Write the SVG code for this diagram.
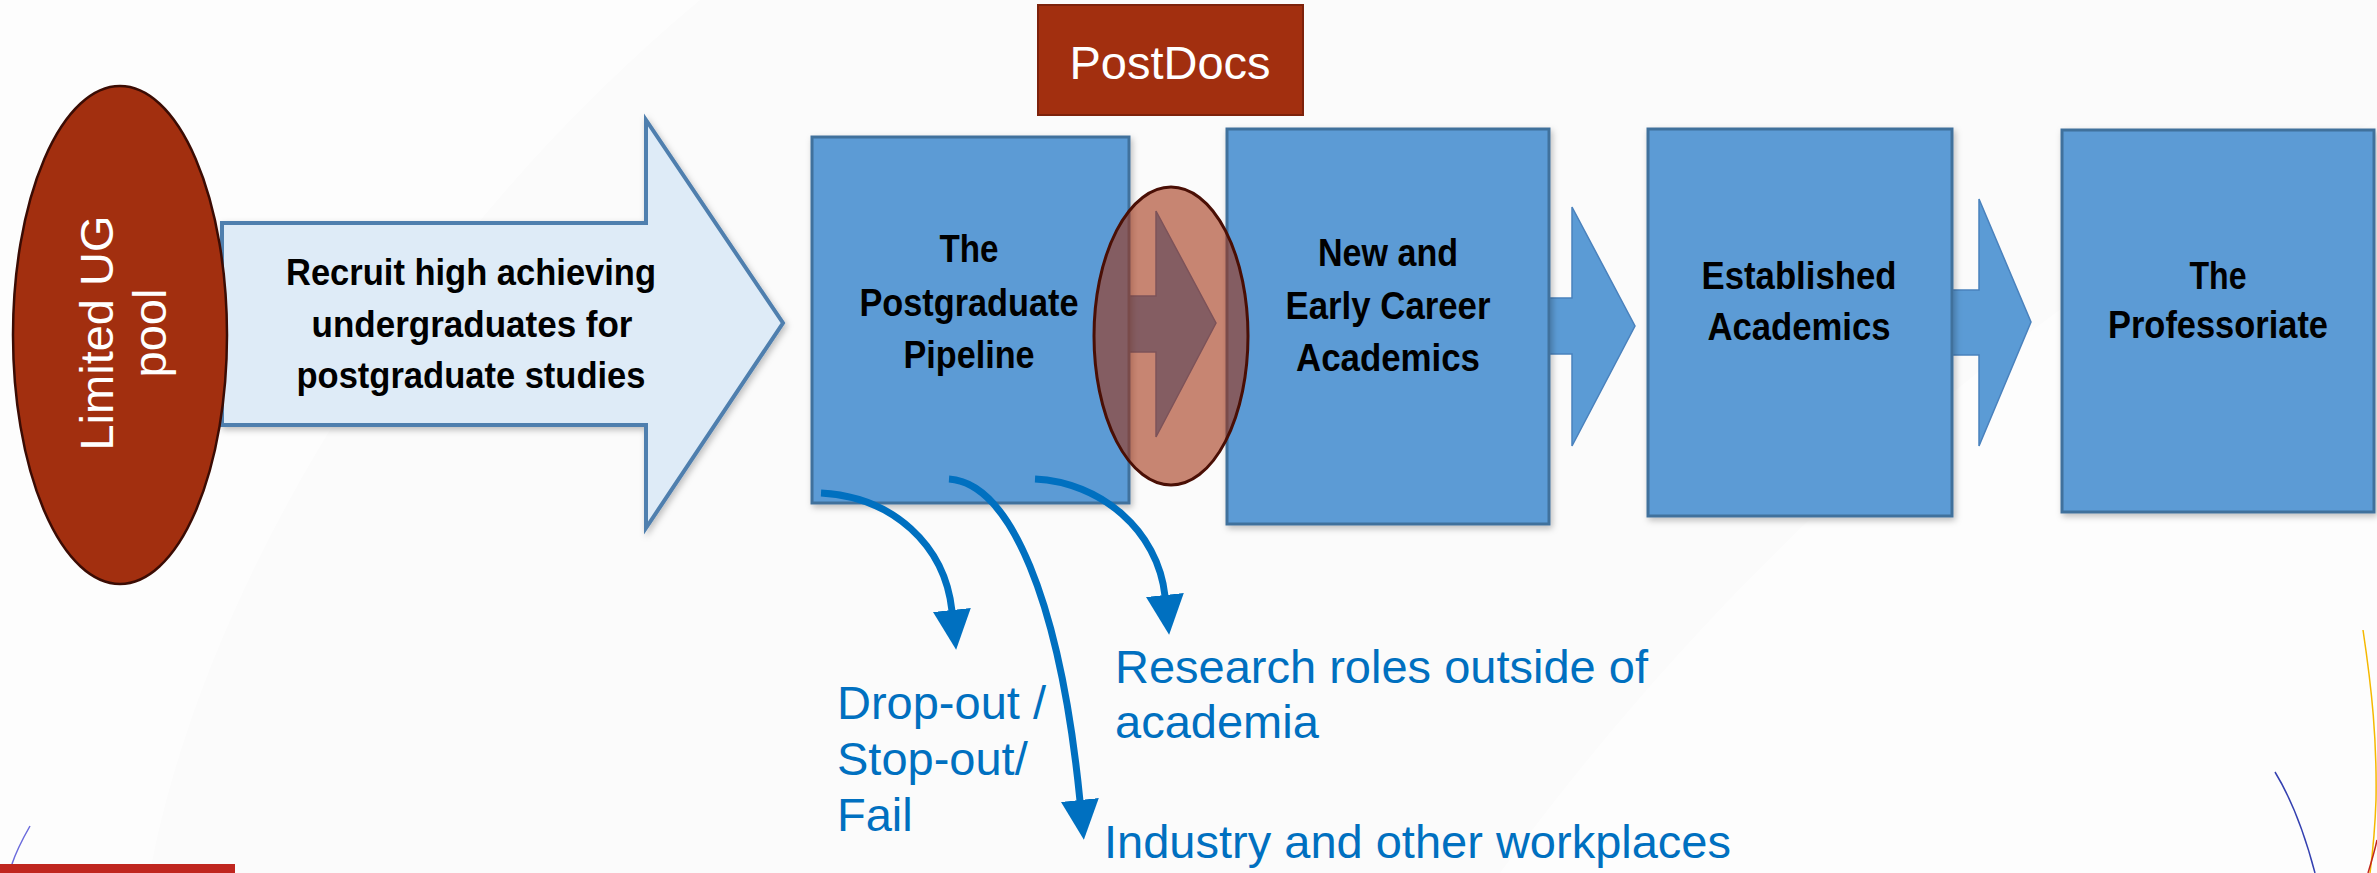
<svg xmlns="http://www.w3.org/2000/svg" width="2377" height="873" viewBox="0 0 2377 873">
  <defs>
    <style>
      .bg{fill:#fbfbfb}
      .haze{fill:#ffffff}
      .stage{fill:#5b9bd5;stroke:#41719c;stroke-width:3}
      .step{fill:#5b9bd5;stroke:#4a82bd;stroke-width:1.5}
      .lbl{font-family:"Liberation Sans",Arial,sans-serif;font-weight:bold;font-size:39px;fill:#000;text-anchor:middle}
      .rlbl{font-family:"Liberation Sans",Arial,sans-serif;font-weight:bold;font-size:36px;fill:#000;text-anchor:middle}
      .white{font-family:"Liberation Sans",Arial,sans-serif;font-size:47px;fill:#fff;text-anchor:middle}
      .out{font-family:"Liberation Sans",Arial,sans-serif;font-size:47px;fill:#0070c0}
      .exit{fill:none;stroke:#0070c0;stroke-width:7;marker-end:url(#head)}
      .rust{fill:#a22f0f}
      .deco{fill:none;stroke-width:1.5}
    </style>
    <marker id="head" markerUnits="userSpaceOnUse" viewBox="0 0 40 38" markerWidth="40" markerHeight="38" refX="1" refY="19" orient="auto">
      <path d="M0,0 L40,19 L0,38 Z" fill="#0070c0"/>
    </marker>
    <filter id="shadow" x="-10%" y="-10%" width="125%" height="125%">
      <feDropShadow dx="2" dy="3" stdDeviation="3" flood-color="#000" flood-opacity="0.25"/>
    </filter>
  </defs>

  <!-- page background -->
  <rect class="bg" x="0" y="0" width="2377" height="873"/>
  <path class="haze" d="M0,0 L700,0 C400,250 200,600 150,873 L0,873 Z" opacity="0.6"/>
  <path class="haze" d="M1500,873 C1700,600 2000,300 2377,120 L2377,873 Z" opacity="0.6"/>

  <!-- decorative corner arcs -->
  <path class="deco" d="M30,826 C22,840 16,852 12,864" stroke="#6b6bdc"/>
  <path class="deco" d="M2363,630 C2372,690 2377,740 2376,800 C2375,830 2373,850 2370,873" stroke="#f5b800" stroke-width="2"/>
  <path class="deco" d="M2275,772 C2292,800 2305,835 2315,873" stroke="#3440b0"/>
  <path class="deco" d="M2368,873 C2372,860 2375,850 2377,840" stroke="#c0261f" stroke-width="2.5"/>
  <rect x="0" y="864" width="235" height="9" fill="#c0261f"/>

  <!-- recruitment arrow -->
  <g id="recruit">
    <polygon points="222,223 646,223 646,120 783,323 646,528 646,425 222,425" fill="#deebf7" stroke="#4f7fae" stroke-width="4" filter="url(#shadow)"/>
    <text class="rlbl" x="471" y="285" textLength="370" lengthAdjust="spacingAndGlyphs">Recruit high achieving</text>
    <text class="rlbl" x="472" y="337" textLength="321" lengthAdjust="spacingAndGlyphs">undergraduates for</text>
    <text class="rlbl" x="471" y="388" textLength="349" lengthAdjust="spacingAndGlyphs">postgraduate studies</text>
  </g>

  <!-- undergraduate pool -->
  <g id="ug-pool">
    <ellipse class="rust" cx="120" cy="335" rx="107" ry="249" stroke="#3b0c04" stroke-width="2.5"/>
    <text class="white" transform="translate(113,333) rotate(-90)">Limited UG</text>
    <text class="white" transform="translate(166,333) rotate(-90)">pool</text>
  </g>

  <!-- step arrows between career stages -->
  <g id="steps">
    <polygon class="step" points="1120,296 1156,296 1156,211 1216,323 1156,437 1156,352 1120,352"/>
    <polygon class="step" points="1540,298 1572,298 1572,207 1635,326 1572,446 1572,354 1540,354"/>
    <polygon class="step" points="1945,290 1979,290 1979,199 2031,322 1979,446 1979,355 1945,355"/>
  </g>

  <g id="pipeline">
    <rect class="stage" x="812" y="137" width="317" height="366" filter="url(#shadow)"/>
    <text class="lbl" x="969" y="262" textLength="59" lengthAdjust="spacingAndGlyphs">The</text>
    <text class="lbl" x="969" y="316" textLength="219" lengthAdjust="spacingAndGlyphs">Postgraduate</text>
    <text class="lbl" x="969" y="368" textLength="131" lengthAdjust="spacingAndGlyphs">Pipeline</text>
  </g>

  <g id="early-career">
    <rect class="stage" x="1227" y="129" width="322" height="395" filter="url(#shadow)"/>
    <text class="lbl" x="1388" y="266" textLength="140" lengthAdjust="spacingAndGlyphs">New and</text>
    <text class="lbl" x="1388" y="319" textLength="205" lengthAdjust="spacingAndGlyphs">Early Career</text>
    <text class="lbl" x="1388" y="371" textLength="184" lengthAdjust="spacingAndGlyphs">Academics</text>
  </g>

  <g id="established">
    <rect class="stage" x="1648" y="129" width="304" height="387" filter="url(#shadow)"/>
    <text class="lbl" x="1799" y="289" textLength="195" lengthAdjust="spacingAndGlyphs">Established</text>
    <text class="lbl" x="1799" y="340" textLength="183" lengthAdjust="spacingAndGlyphs">Academics</text>
  </g>

  <g id="professoriate">
    <rect class="stage" x="2062" y="130" width="312" height="382" filter="url(#shadow)"/>
    <text class="lbl" x="2218" y="289" textLength="57" lengthAdjust="spacingAndGlyphs">The</text>
    <text class="lbl" x="2218" y="338" textLength="220" lengthAdjust="spacingAndGlyphs">Professoriate</text>
  </g>

  <!-- postdoc overlap marker -->
  <g id="postdoc-overlap">
    <ellipse cx="1171" cy="336" rx="77" ry="149" fill="#a2300f" fill-opacity="0.58" stroke="#4a0f05" stroke-width="3"/>
  </g>

  <g id="postdocs">
    <rect class="rust" x="1038" y="5" width="265" height="110" stroke="#7d220b" stroke-width="2"/>
    <text class="white" x="1170" y="79">PostDocs</text>
  </g>

  <!-- exits from the pipeline -->
  <g id="connectors">
    <path class="exit" d="M821,493 C893,497 945,545 952,611"/>
    <path class="exit" d="M949,479 C1010,483 1060,600 1080,801"/>
    <path class="exit" d="M1035,479 C1100,482 1158,530 1165,596"/>
  </g>

  <g id="exit-labels">
    <text class="out" x="837" y="719">Drop-out /</text>
    <text class="out" x="837" y="775">Stop-out/</text>
    <text class="out" x="837" y="831">Fail</text>
    <text class="out" x="1115" y="683">Research roles outside of</text>
    <text class="out" x="1115" y="738">academia</text>
    <text class="out" x="1104" y="858">Industry and other workplaces</text>
  </g>
</svg>
